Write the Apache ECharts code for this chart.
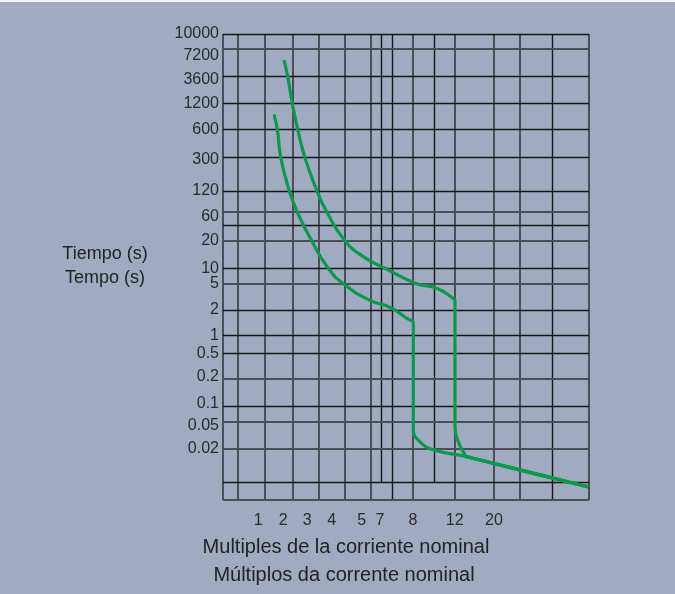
<!DOCTYPE html>
<html>
<head>
<meta charset="utf-8">
<title>Curva de disparo</title>
<script src="https://cdn.jsdelivr.net/npm/echarts@6/dist/echarts.min.js"></script>
<style>
    html, body { margin: 0; padding: 0; background: #a0abc2; }
    #chart-container { width: 675px; height: 594px; }
</style>
</head>
<body>
<div id="chart-container"></div>
<script>
// eje x: multiplos de la corriente nominal
var xTickValues = [1, 2, 3, 4, 5, 7, 8, 12, 20];
var xTickLabels = ['1', '2', '3', '4', '5', '7', '8', '12', '20'];

// eje y: tiempo (s)
var yTickValues = [10000, 7200, 3600, 1200, 600, 300, 120, 60, 20, 10, 5, 2, 1, 0.5, 0.2, 0.1, 0.05, 0.02];
var yTickLabels = ['10000', '7200', '3600', '1200', '600', '300', '120', '60', '20', '10', '5', '2', '1', '0.5', '0.2', '0.1', '0.05', '0.02'];

// [multiplo, segundos]
var curveLow = [
    [1.63, 900], [1.76, 600], [1.90, 295], [2.24, 123], [2.58, 60], [3.18, 20],
    [3.86, 10], [4.39, 5], [5.91, 2.8], [7.30, 2.2], [7.81, 1.6], [8.03, 1.4],
    [8.03, 1.25], [8.03, 0.045], [8.03, 0.038], [8.67, 0.025], [9.95, 0.019],
    [14.4, 0.015], [39.2, 0.0053]
];
var curveHigh = [
    [2.03, 5400], [2.18, 3600], [2.375, 1200], [2.6, 600], [2.9, 295], [3.385, 123],
    [3.80, 60], [4.44, 20], [5.17, 13.4], [7.15, 10], [8.35, 5], [10.27, 4.26],
    [11.87, 3.0], [12.06, 2.8], [12.06, 2.5], [12.06, 0.05], [12.06, 0.042],
    [12.73, 0.025], [14.1, 0.016], [14.4, 0.015], [39.2, 0.0053]
];

(function(window, echarts) {
    'use strict';

    // the printed sheet is not a true log scale: each tick has its own place (px inside the grid)
    var X_TICK_POS = [35.3, 60.3, 84.3, 108.7, 138.7, 157, 190, 231.7, 271];
    var Y_TICK_POS = [466, 451.3, 423.7, 396.3, 370.7, 343, 309, 288, 259.3, 231.7, 216.3, 190, 164.3, 146.7, 121, 93.3, 78.3, 51.7];
    var W = 366, H = 466;

    // some time labels are printed a few px off their line (px, + is down)
    var LABEL_NUDGE = {'7200': 7, '3600': 3, '300': 3, '60': 5, '0.2': -2, '0.1': -3, '0.05': 4};

    var GRAY = {color: '#4a4e57', width: 2, type: 'solid'};
    var BLACK = {color: '#161616', width: 1.4, type: 'solid'};

    var V_GRAY = [0, 14.7, 42, 69.3, 96, 122, 148, 190, 231.7, 271, 296.3, 366];
    var V_BLACK = [169.3, 329.7];
    var V_SHORT = [158.7, 211.3];
    var H_EXTRA = [275, 17.3];
    var H_GRAY_LABELS = ['7200', '60', '20', '5', '0.2', '0.05', '0.02'];
    var SHORT_FROM = 17.3;

    function interp(v, vals, pos) {
        var i = 1;
        while (i < vals.length - 1 && v > vals[i]) i++;
        return pos[i - 1] + (v - vals[i - 1]) / (vals[i] - vals[i - 1]) * (pos[i] - pos[i - 1]);
    }

    var yLog = yTickValues.map(function(v) { return Math.log10(v); }).reverse();
    var yPosAsc = Y_TICK_POS.slice().reverse();

    function xPos(m) { return interp(m, xTickValues, X_TICK_POS); }
    function yPos(t) { return interp(Math.log10(t), yLog, yPosAsc); }

    function labelFor(v, pos, labels) {
        for (var i = 0; i < pos.length; i++) {
            if (Math.abs(pos[i] - v) < 0.01) return labels[i];
        }
        return '';
    }

    var gridLines = [];
    V_GRAY.forEach(function(v) { gridLines.push({xAxis: v, lineStyle: GRAY}); });
    V_BLACK.forEach(function(v) { gridLines.push({xAxis: v, lineStyle: BLACK}); });
    V_SHORT.forEach(function(v) {
        gridLines.push([{coord: [v, SHORT_FROM], lineStyle: BLACK}, {coord: [v, H]}]);
    });
    yTickValues.forEach(function(t, i) {
        var st = H_GRAY_LABELS.indexOf(yTickLabels[i]) >= 0 ? GRAY : BLACK;
        gridLines.push({yAxis: yPos(t), lineStyle: st});
    });
    H_EXTRA.forEach(function(v) { gridLines.push({yAxis: v, lineStyle: BLACK}); });
    gridLines.push({yAxis: 0, lineStyle: GRAY});

    function toXY(curve) {
        return curve.map(function(p) { return [xPos(p[0]), yPos(p[1])]; });
    }

    var labelFont = {fontSize: 16, color: '#2a2a2a', fontFamily: 'Liberation Sans'};
    var textColor = '#222';

    var rich = {};
    Object.keys(LABEL_NUDGE).forEach(function(k, i) {
        var n = LABEL_NUDGE[k];
        rich['n' + i] = Object.assign({padding: n > 0 ? [2 * n, 0, 0, 0] : [0, 0, -2 * n, 0]}, labelFont);
    });

    function timeLabel(v) {
        var s = labelFor(v, Y_TICK_POS, yTickLabels);
        var i = Object.keys(LABEL_NUDGE).indexOf(s);
        return i >= 0 ? '{n' + i + '|' + s + '}' : s;
    }

    // 10000 sits on a second, label-only axis: otherwise it and 7200 hide each other
    function timeAxis(values) {
        return {
            type: 'value', min: 0, max: H, position: 'left',
            axisLine: {show: false}, axisTick: {show: false}, splitLine: {show: false},
            axisLabel: Object.assign({
                customValues: values,
                showMinLabel: true, showMaxLabel: true,
                margin: 4,
                rich: rich,
                formatter: timeLabel
            }, labelFont)
        };
    }

    var chart = echarts.init(document.getElementById('chart-container'));
    chart.setOption({
        backgroundColor: '#a0abc2',
        animation: false,
        grid: {left: 223, right: 86, top: 34, bottom: 94},
        xAxis: {
            type: 'value', min: 0, max: W,
            axisLine: {show: false}, axisTick: {show: false}, splitLine: {show: false},
            axisLabel: Object.assign({
                customValues: X_TICK_POS,
                showMinLabel: true, showMaxLabel: true,
                margin: 13,
                formatter: function(v) { return labelFor(v, X_TICK_POS, xTickLabels); }
            }, labelFont)
        },
        yAxis: [timeAxis(Y_TICK_POS.slice(1)), timeAxis(Y_TICK_POS.slice(0, 1))],
        graphic: [
            {type: 'rect', shape: {x: 0, y: 0, width: 675, height: 2}, style: {fill: '#f4f4f6'}},
            {type: 'text', x: 105, y: 254, style: {text: 'Tiempo (s)', align: 'center', verticalAlign: 'middle', fill: textColor, font: '18px "Liberation Sans"'}},
            {type: 'text', x: 105, y: 278, style: {text: 'Tempo (s)', align: 'center', verticalAlign: 'middle', fill: textColor, font: '18px "Liberation Sans"'}},
            {type: 'text', x: 346, y: 547, style: {text: 'Multiples de la corriente nominal', align: 'center', verticalAlign: 'middle', fill: textColor, font: '20px "Liberation Sans"'}},
            {type: 'text', x: 344, y: 575, style: {text: 'Múltiplos da corrente nominal', align: 'center', verticalAlign: 'middle', fill: textColor, font: '20px "Liberation Sans"'}}
        ],
        series: [
            {
                type: 'line', data: [], z: 1, silent: true,
                markLine: {symbol: 'none', silent: true, label: {show: false}, data: gridLines, animation: false}
            },
            {
                type: 'line', data: toXY(curveLow), z: 5, smooth: 0.5, showSymbol: false, silent: true,
                lineStyle: {color: '#0b9a4b', width: 3.2}
            },
            {
                type: 'line', data: toXY(curveHigh), z: 5, smooth: 0.5, showSymbol: false, silent: true,
                lineStyle: {color: '#0b9a4b', width: 3.2}
            }
        ]
    });
})(window, window.echarts);
</script>
</body>
</html>
